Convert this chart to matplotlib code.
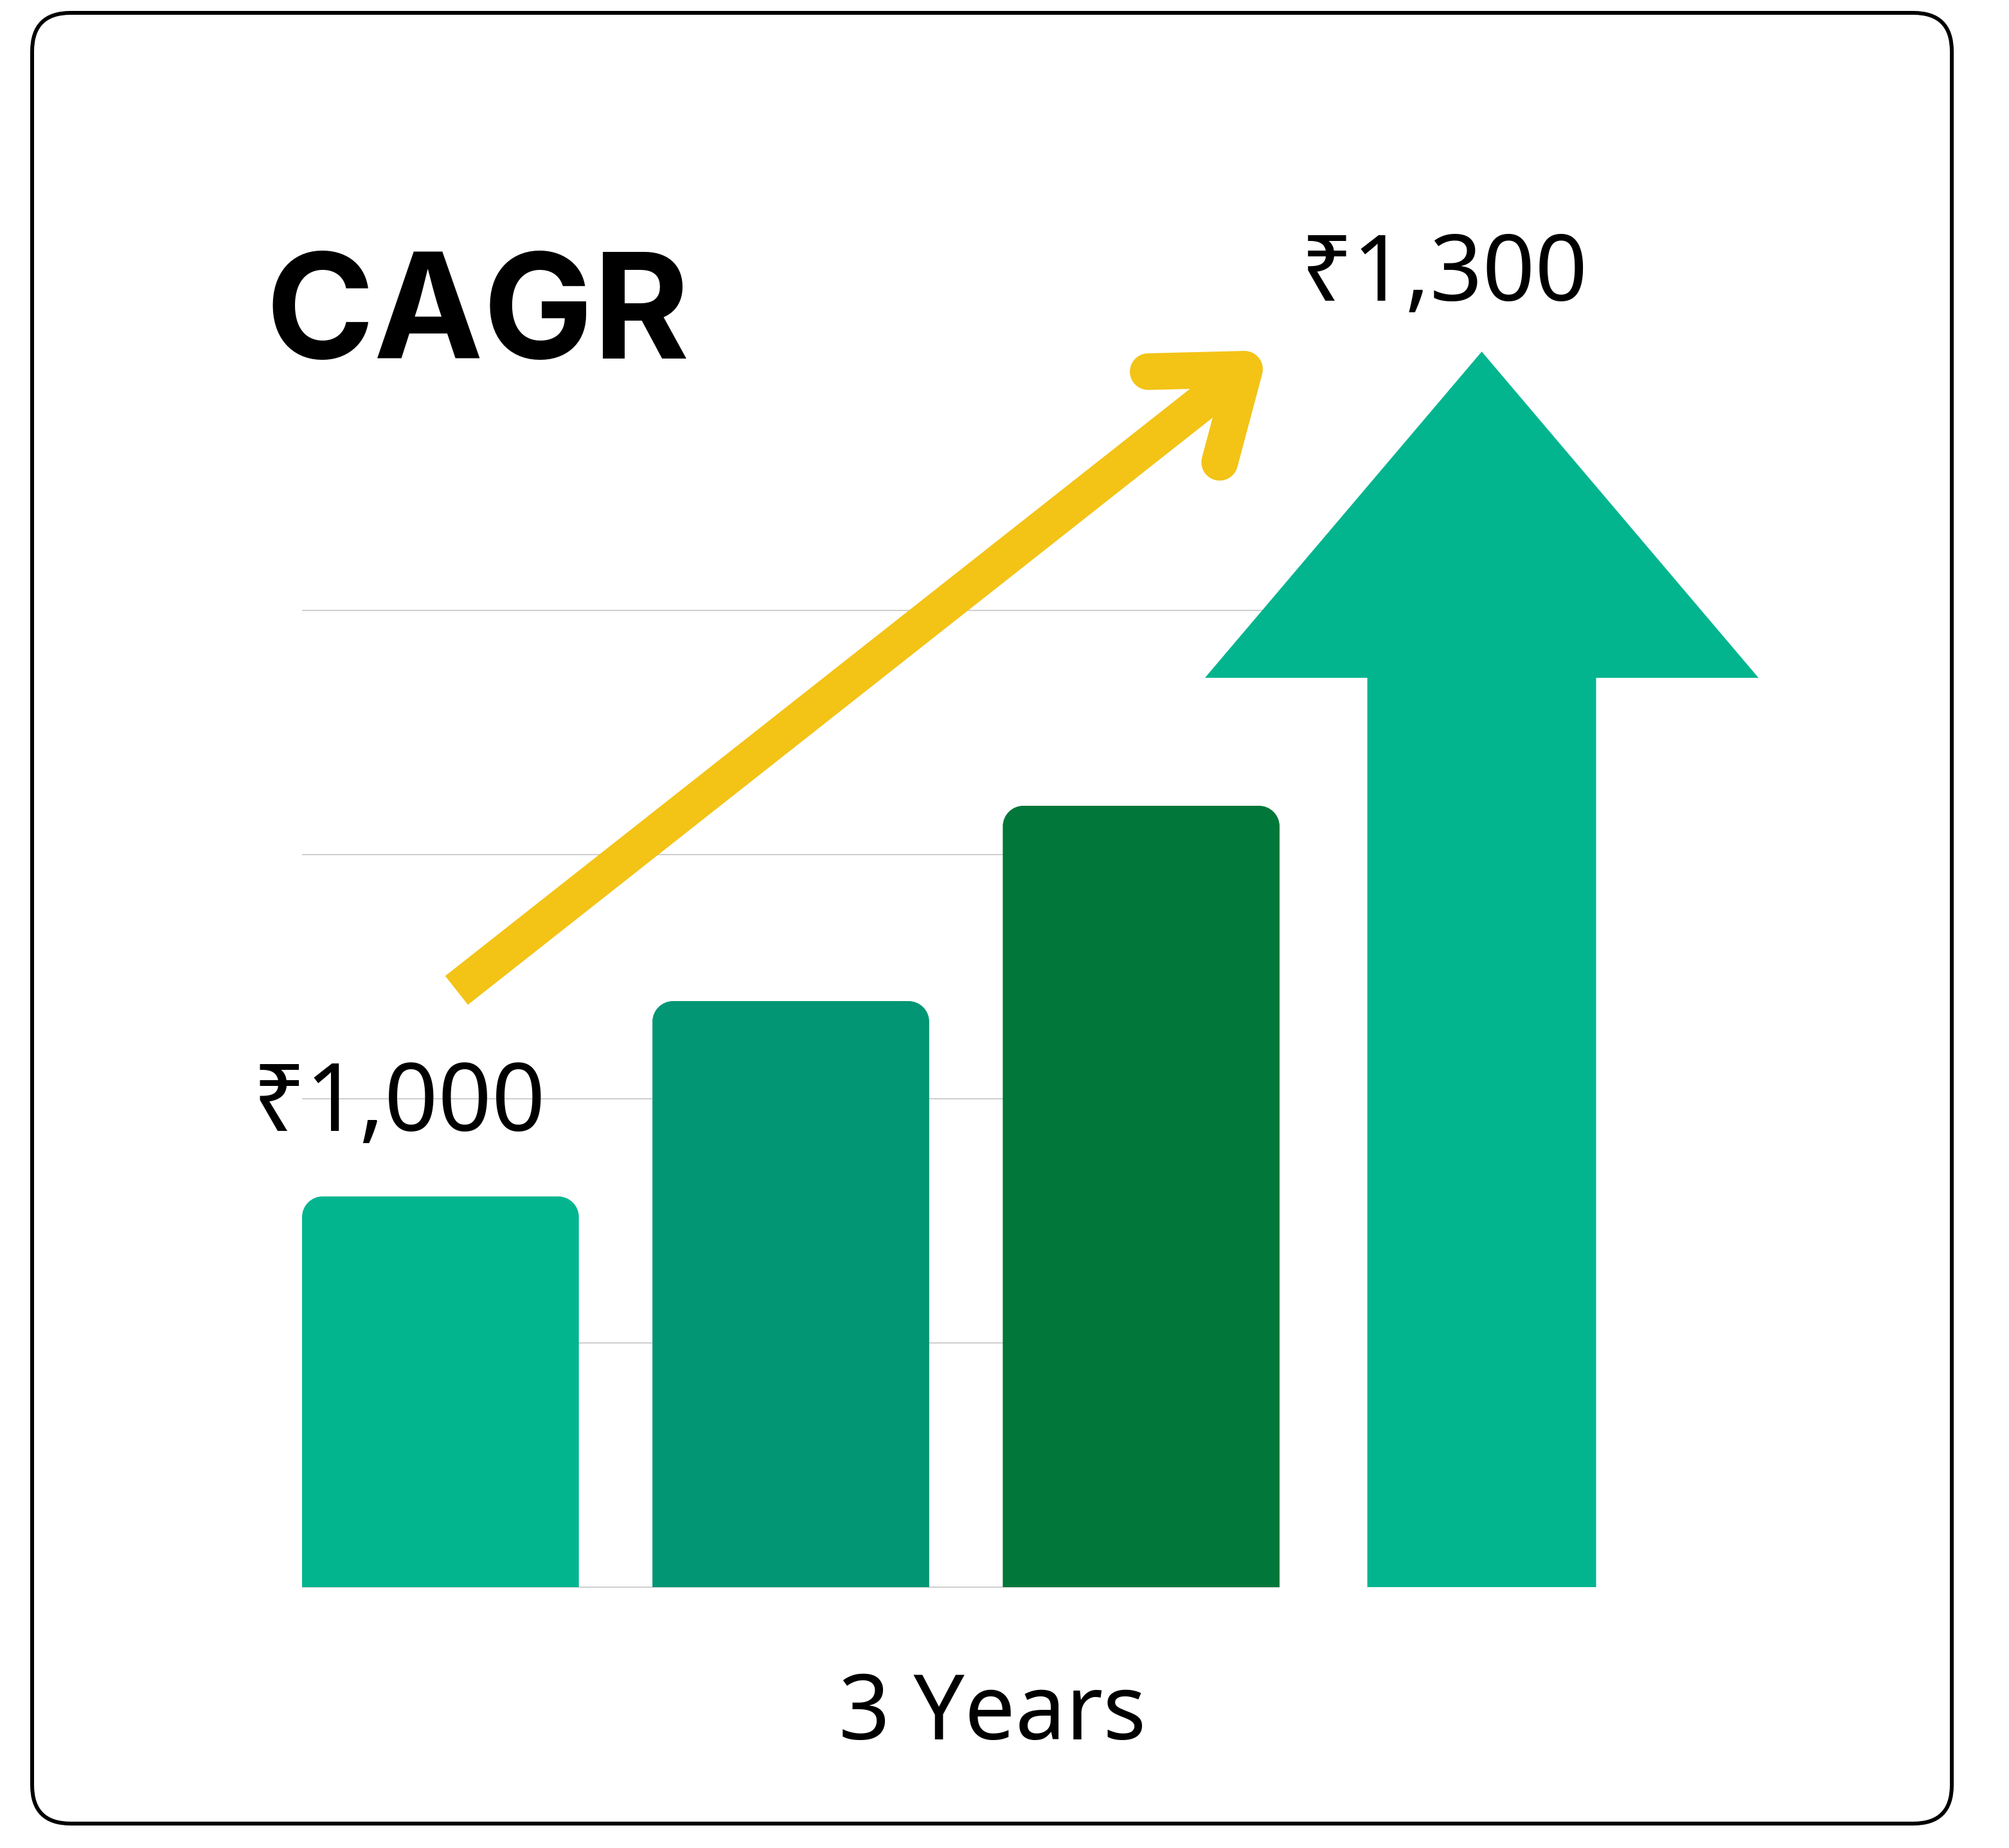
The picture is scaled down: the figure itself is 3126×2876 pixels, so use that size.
#!/usr/bin/env python3
"""CAGR illustration: three growing bars, a big up-arrow and a trend arrow."""

import matplotlib
matplotlib.use('Agg')
import matplotlib.pyplot as plt
import numpy as np
from matplotlib.patches import FancyBboxPatch, PathPatch, Polygon
from matplotlib.path import Path

# ---- data -----------------------------------------------------------------
bar_values = [400, 600, 800]
bar_colors = ['#03B58F', '#029675', '#017739']
grid_levels = [0, 250, 500, 750, 1000]
arrow_top = 1265        # tip of the big green arrow
arrow_head_base = 931   # where the arrow head meets the shaft
start_label = '₹1,000'
end_label = '₹1,300'
title = 'CAGR'
period_label = '3 Years'

# ---- layout ---------------------------------------------------------------
W, H, DPI = 3126, 2876, 100
BAR_W = 0.79
ARROW_X = 2.972
SHAFT_HALF = 0.3265
HEAD_HALF = 0.79
TREND_START = (0.046, 611)
TREND_END = (2.295, 1247)
YELLOW = '#F3C316'
GRID = '#C4C4C4'
NUM_FONT = ['Noto Sans', 'DejaVu Sans']


def px(v):
    return v * 72.0 / DPI


def top_rounded_bar(x0, w, h, rx, ry):
    k = 0.5523
    verts = [
        (x0, 0), (x0, h - ry),
        (x0, h - ry + k * ry), (x0 + rx - k * rx, h), (x0 + rx, h),
        (x0 + w - rx, h),
        (x0 + w - rx + k * rx, h), (x0 + w, h - ry + k * ry), (x0 + w, h - ry),
        (x0 + w, 0), (x0, 0),
    ]
    codes = [Path.MOVETO, Path.LINETO,
             Path.CURVE4, Path.CURVE4, Path.CURVE4,
             Path.LINETO,
             Path.CURVE4, Path.CURVE4, Path.CURVE4,
             Path.LINETO, Path.CLOSEPOLY]
    return Path(verts, codes)


fig = plt.figure(figsize=(W / DPI, H / DPI), dpi=DPI)
fig.patch.set_facecolor('white')

# background axes in pixel units for frame and text
bg = fig.add_axes([0, 0, 1, 1])
bg.set_xlim(0, W)
bg.set_ylim(H, 0)
bg.axis('off')
frame = FancyBboxPatch((50, 20), 2987, 2818,
                       boxstyle='round,pad=0,rounding_size=60',
                       facecolor='white', edgecolor='black', linewidth=px(6))
bg.add_patch(frame)

# chart axes spanning the three bars
ax = fig.add_axes([470 / W, (H - 2470) / H, 1521 / W, 1520 / H])
ax.set_xlim(-BAR_W / 2, 2 + BAR_W / 2)
ax.set_ylim(0, 1000)
ax.axis('off')

ax.hlines(grid_levels, -BAR_W / 2, 2 + BAR_W / 2, colors=GRID,
          linewidth=px(1.6), zorder=0, clip_on=False)

rx = 32 / 545.25
ry = 32 / 1.52
for i, (val, col) in enumerate(zip(bar_values, bar_colors)):
    path = top_rounded_bar(i - BAR_W / 2, BAR_W, val, rx, ry)
    ax.add_patch(PathPatch(path, facecolor=col, edgecolor='none', zorder=2))

# big green arrow
arrow_pts = [
    (ARROW_X - SHAFT_HALF, 0),
    (ARROW_X - SHAFT_HALF, arrow_head_base),
    (ARROW_X - HEAD_HALF, arrow_head_base),
    (ARROW_X, arrow_top),
    (ARROW_X + HEAD_HALF, arrow_head_base),
    (ARROW_X + SHAFT_HALF, arrow_head_base),
    (ARROW_X + SHAFT_HALF, 0),
]
ax.add_patch(Polygon(arrow_pts, closed=True, facecolor=bar_colors[0],
                     edgecolor='none', zorder=3, clip_on=False))

# yellow trend arrow
lw = px(57)
ax.plot([TREND_START[0], TREND_END[0]], [TREND_START[1], TREND_END[1]],
        color=YELLOW, linewidth=lw, solid_capstyle='butt', zorder=4,
        clip_on=False)
tip = ax.transData.transform(TREND_END)
tail = ax.transData.transform(TREND_START)
d = (tail - tip) / np.hypot(*(tail - tip))
arms = []
for sign in (1, -1):
    a = np.deg2rad(36.8) * sign
    rot = np.array([[np.cos(a), -np.sin(a)], [np.sin(a), np.cos(a)]])
    arms.append(tip + 150 * rot.dot(d))
head = ax.transData.inverted().transform(np.array([arms[0], tip, arms[1]]))
ax.plot(head[:, 0], head[:, 1], color=YELLOW, linewidth=lw,
        solid_capstyle='round', solid_joinstyle='round', zorder=5,
        clip_on=False)

# texts
bg.text(414, 558, title, fontsize=px(228), fontweight='bold',
        family=['Inter', 'Lato', 'DejaVu Sans'], ha='left', va='baseline',
        zorder=6)
bg.text(2024, 468, end_label, fontsize=px(143), family=NUM_FONT,
        ha='left', va='baseline', zorder=6)
fig.text(392 / W, (H - 1760) / H, start_label, fontsize=px(146),
         family=NUM_FONT, ha='left', va='baseline', zorder=10)
bg.text(1544, 2707, period_label, fontsize=px(140), family=NUM_FONT,
        ha='center', va='baseline', zorder=6)

fig.savefig('out.png', dpi=DPI, facecolor='white')
plt.close(fig)
